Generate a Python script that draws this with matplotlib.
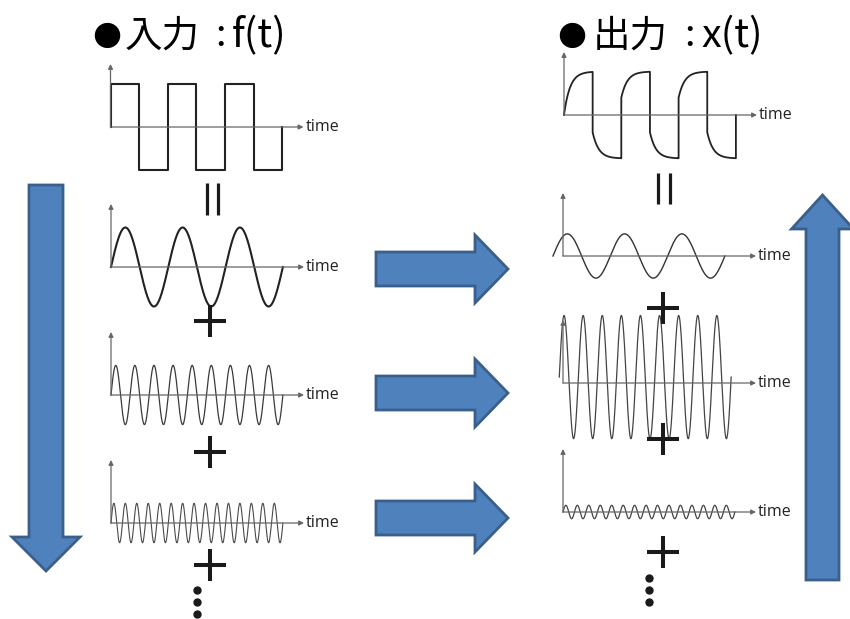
import numpy as np
import matplotlib
matplotlib.use('Agg')
import matplotlib.pyplot as plt
from matplotlib.patches import Polygon

plt.rcParams['font.family'] = ['Noto Sans CJK JP', 'DejaVu Sans']

W, H = 850, 619
PX_PERIOD = 57.3   # pixels per fundamental period
PX_UNIT = 39.5     # pixels per amplitude unit
N_PERIODS = 3

# input f(t): square wave = sum of odd harmonics
square_amp_in = 1.09
harmonics = [1, 3, 5]
amp_in = [1.0, 0.75, 0.5]
lead_in = [0.0, 0.0, 0.0]          # phase lead, in fundamental periods
offset_in = [0.0, 0.0, 0.0]

# output x(t): response of each harmonic
square_amp_out = 1.1
jump_level = 0.4
tau = 0.105
amp_out = [0.56, 1.56, 0.17]
lead_out = [0.175, 0.065, 0.0]
offset_out = [0.0, 0.15, 0.0]

# panel origins (pixel position of t=0 on each time axis)
left_origins = [(110.5, 127), (111, 267), (111, 395), (111, 523)]
right_origins = [(564, 115), (563, 256), (563, 383), (563, 512)]

BLUE = '#4F81BD'
BLUE_EDGE = '#3A5F8B'
INK = '#1a1a1a'


def make_panel(fig, origin):
    x0, y0 = origin
    left, right, half = 25, 215, 80
    ax = fig.add_axes([(x0 - left) / W, 1 - (y0 + half) / H,
                       (left + right) / W, 2 * half / H])
    ax.set_xlim(-left / PX_PERIOD, right / PX_PERIOD)
    ax.set_ylim(-half / PX_UNIT, half / PX_UNIT)
    ax.axis('off')
    ax.patch.set_alpha(0)
    arrow = dict(arrowstyle='-|>', lw=0.9, color='#666666',
                 mutation_scale=7, shrinkA=0, shrinkB=0)
    ax.annotate('', xy=(193 / PX_PERIOD, 0), xytext=(0, 0), arrowprops=arrow)
    ax.annotate('', xy=(0, 63 / PX_UNIT), xytext=(0, 0), arrowprops=arrow)
    ax.text(195 / PX_PERIOD, 0, 'time', fontsize=11.5, va='center',
            ha='left', family='Open Sans', color='#222222')
    return ax


def square_in(amp):
    t, y = [0.0], [0.0]
    for k in range(2 * N_PERIODS):
        s = 1 if k % 2 == 0 else -1
        t += [k / 2, (k + 1) / 2]
        y += [s * amp, s * amp]
    t.append(N_PERIODS)
    y.append(0.0)
    return np.array(t), np.array(y)


def square_out(amp):
    t, y = [0.0], [0.0]
    for k in range(2 * N_PERIODS):
        s = 1 if k % 2 == 0 else -1
        tt = np.linspace(k / 2, (k + 1) / 2, 80)
        rise = 1 - np.exp(-(tt - k / 2) / tau)
        v = rise if k == 0 else jump_level + (1 - jump_level) * rise
        t += list(tt)
        y += list(s * amp * v)
    t.append(N_PERIODS)
    y.append(0.0)
    return np.array(t), np.array(y)


def harmonic(h, amp, lead, offset):
    tt = np.linspace(-lead, N_PERIODS - lead, 2000)
    return tt, offset + amp * np.sin(2 * np.pi * h * (tt + lead))


def block_arrow(ax, tail, tip, shaft_w, head_w, head_len):
    tail, tip = np.array(tail, float), np.array(tip, float)
    u = (tip - tail) / np.linalg.norm(tip - tail)
    n = np.array([-u[1], u[0]])
    base = tip - u * head_len
    pts = [tail + n * shaft_w / 2, base + n * shaft_w / 2,
           base + n * head_w / 2, tip, base - n * head_w / 2,
           base - n * shaft_w / 2, tail - n * shaft_w / 2]
    ax.add_patch(Polygon(pts, closed=True, fc=BLUE, ec=BLUE_EDGE,
                         lw=2, joinstyle='miter'))


fig = plt.figure(figsize=(W / 100, H / 100), dpi=100, facecolor='white')

# left column: input
styles_in = [(1.5, '#222222'), (1.5, '#222222'), (0.9, '#3a3a3a'), (0.8, '#4a4a4a')]
ax = make_panel(fig, left_origins[0])
ax.plot(*square_in(square_amp_in), color=styles_in[0][1], lw=styles_in[0][0])
for i, h in enumerate(harmonics):
    ax = make_panel(fig, left_origins[i + 1])
    ax.plot(*harmonic(h, amp_in[i], lead_in[i], offset_in[i]),
            color=styles_in[i + 1][1], lw=styles_in[i + 1][0])

# right column: output
styles_out = [(1.3, '#222222'), (1.0, '#333333'), (0.9, '#444444'), (0.9, '#444444')]
ax = make_panel(fig, right_origins[0])
ax.plot(*square_out(square_amp_out), color=styles_out[0][1], lw=styles_out[0][0])
for i, h in enumerate(harmonics):
    ax = make_panel(fig, right_origins[i + 1])
    ax.plot(*harmonic(h, amp_out[i], lead_out[i], offset_out[i]),
            color=styles_out[i + 1][1], lw=styles_out[i + 1][0])

# overlay: titles, symbols, block arrows
top = fig.add_axes([0, 0, 1, 1])
top.set_xlim(0, W)
top.set_ylim(H, 0)
top.axis('off')
top.patch.set_alpha(0)
top.set_zorder(10)

titles = [(92, '入力', 'f(t)', (33, 123, 140)), (557, '出力', 'x(t)', (36, 127, 144))]
for x0, word, var, (dw, dc, dv) in titles:
    top.text(x0, 34, '●', fontsize=24, va='center', ha='left',
             family='DejaVu Sans', color='black')
    top.text(x0 + dw, 36, word, fontsize=27, va='center', ha='left', color='black')
    top.text(x0 + dc, 36, ':', fontsize=27, va='center', ha='left', color='black')
    top.text(x0 + dv, 36, var, fontsize=28.5, va='center', ha='left', color='black')

# rotated "=" signs
for xs, (y1, y2) in [((207, 218), (183, 215)), ((658, 670), (173, 204))]:
    for x in xs:
        top.plot([x, x], [y1, y2], color=INK, lw=2.3, solid_capstyle='butt')

# plus signs
for cx, cy in [(210, 321), (210, 452), (210, 565), (663, 308), (663, 439), (663, 552)]:
    top.plot([cx - 16, cx + 16], [cy, cy], color=INK, lw=2.9, solid_capstyle='butt')
    top.plot([cx, cx], [cy - 16, cy + 16], color=INK, lw=2.9, solid_capstyle='butt')

# vertical ellipses
top.plot([197, 197, 197], [590, 602, 614], 'o', ms=5, color=INK)
top.plot([649, 649, 649], [578, 590, 602], 'o', ms=5, color=INK)

block_arrow(top, (46, 185), (46, 571), 34, 68, 34)
block_arrow(top, (822.5, 580), (822.5, 195), 33, 62, 34)
for y in [269, 393, 518]:
    block_arrow(top, (376, y), (508, y), 34, 68, 33)

fig.savefig('out.png', dpi=100)
